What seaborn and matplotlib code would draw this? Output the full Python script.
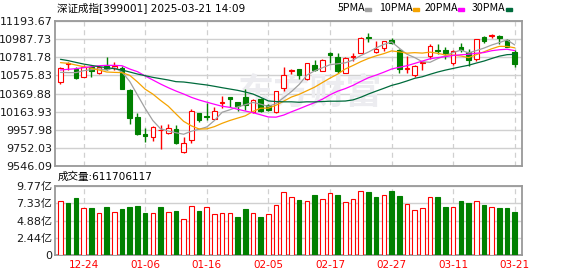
import matplotlib
matplotlib.use("Agg")
import matplotlib.pyplot as plt
import seaborn as sns
import numpy as np
import pandas as pd
from matplotlib.patches import Rectangle

# ---------------- data ----------------
dates = ["12-19", "12-20", "12-23", "12-24", "12-25", "12-26", "12-27", "12-30", "12-31",
         "01-02", "01-03", "01-06", "01-07", "01-08", "01-09", "01-10", "01-13", "01-14",
         "01-15", "01-16", "01-17", "01-20", "01-21", "01-22", "01-23", "01-24", "01-27",
         "02-05", "02-06", "02-07", "02-10", "02-11", "02-12", "02-13", "02-14", "02-17",
         "02-18", "02-19", "02-20", "02-21", "02-24", "02-25", "02-26", "02-27", "02-28",
         "03-03", "03-04", "03-05", "03-06", "03-07", "03-10", "03-11", "03-12", "03-13",
         "03-14", "03-17", "03-18", "03-19", "03-20", "03-21"]

opens = [10497, 10710, 10649, 10562, 10676, 10600, 10684, 10657, 10665, 10410,
         10098, 9904, 9870, 9950, 9915, 9965, 9706, 9839, 10144, 10109,
         10075, 10262, 10330, 10273, 10326, 10155, 10303, 10235, 10155, 10429,
         10627, 10646, 10539, 10695, 10630, 10836, 10782, 10608, 10786, 10836,
         11015, 10843, 10885, 10980, 10866, 10653, 10577, 10714, 10798, 10870,
         10866, 10714, 10897, 10840, 10760, 11018, 11026, 11026, 10980, 10847]
closes = [10657, 10722, 10551, 10676, 10630, 10676, 10653, 10687, 10425, 10094,
          9904, 9889, 9992, 9957, 9972, 9801, 9801, 10170, 10068, 10102,
          10170, 10269, 10311, 10227, 10235, 10296, 10170, 10182, 10395, 10577,
          10634, 10577, 10714, 10638, 10752, 10809, 10630, 10771, 10798, 11007,
          11007, 10874, 10965, 10942, 10646, 10661, 10684, 10725, 10912, 10859,
          10828, 10859, 10866, 10752, 10988, 10973, 11037, 11003, 10904, 10703]
highs = [10676, 10729, 10676, 10695, 10687, 10687, 10782, 10725, 10684, 10418,
         10144, 9972, 9999, 10014, 10022, 10010, 9877, 10189, 10147, 10258,
         10212, 10341, 10330, 10277, 10417, 10311, 10319, 10250, 10402, 10676,
         10653, 10653, 10722, 10752, 10764, 10840, 10828, 10782, 10828, 11018,
         11064, 10973, 10973, 10999, 10874, 10798, 10699, 10745, 10935, 10935,
         10897, 10866, 10950, 10874, 10995, 11026, 11053, 11041, 10988, 10866]
lows = [10474, 10638, 10535, 10554, 10554, 10589, 10638, 10638, 10421, 10018,
        9896, 9820, 9832, 9740, 9908, 9794, 9695, 9801, 10049, 10068,
        10075, 10201, 10212, 10174, 10182, 10144, 10163, 10170, 10144, 10398,
        10589, 10539, 10524, 10630, 10623, 10714, 10608, 10600, 10745, 10828,
        10961, 10828, 10855, 10935, 10600, 10600, 10554, 10638, 10764, 10817,
        10760, 10695, 10847, 10684, 10745, 10950, 10999, 10935, 10897, 10669]

ma5 = [10611, 10608, 10608, 10630, 10642, 10651, 10637, 10664, 10614, 10507,
       10353, 10200, 10061, 9967, 9943, 9922, 9905, 9940, 9962, 9988,
       10062, 10156, 10184, 10216, 10242, 10268, 10248, 10222, 10256, 10324,
       10392, 10473, 10579, 10628, 10663, 10698, 10709, 10720, 10752, 10803,
       10843, 10891, 10930, 10959, 10887, 10818, 10780, 10732, 10726, 10768,
       10802, 10837, 10865, 10833, 10859, 10888, 10923, 10951, 10981, 10924]
ma10 = [10722, 10714, 10695, 10676, 10657, 10638, 10615, 10611, 10608, 10577,
        10502, 10419, 10363, 10291, 10225, 10137, 10052, 10001, 9965, 9966,
        9992, 10030, 10062, 10089, 10115, 10165, 10202, 10203, 10236, 10283,
        10330, 10360, 10401, 10442, 10494, 10545, 10591, 10650, 10690, 10733,
        10770, 10800, 10825, 10856, 10845, 10830, 10836, 10831, 10842, 10828,
        10810, 10808, 10798, 10779, 10813, 10845, 10880, 10908, 10907, 10891]
ma20 = [10638, 10646, 10653, 10665, 10676, 10687, 10691, 10691, 10687, 10649,
        10619, 10570, 10524, 10478, 10436, 10398, 10364, 10326, 10296, 10271,
        10247, 10224, 10212, 10190, 10170, 10151, 10127, 10102, 10100, 10124,
        10161, 10195, 10231, 10265, 10304, 10355, 10396, 10426, 10463, 10508,
        10550, 10580, 10613, 10649, 10669, 10687, 10713, 10740, 10766, 10780,
        10790, 10804, 10812, 10817, 10829, 10837, 10858, 10869, 10875, 10859]
ma30 = [10760, 10745, 10725, 10706, 10691, 10676, 10665, 10653, 10638, 10615,
        10592, 10573, 10554, 10539, 10524, 10505, 10501, 10490, 10478, 10467,
        10452, 10436, 10421, 10406, 10387, 10364, 10326, 10285, 10278, 10275,
        10275, 10270, 10275, 10274, 10278, 10282, 10282, 10284, 10297, 10327,
        10364, 10397, 10429, 10462, 10485, 10513, 10543, 10561, 10589, 10615,
        10637, 10656, 10675, 10692, 10717, 10740, 10769, 10796, 10813, 10817]

# volume in 亿 (1e8 shares)
volumes = [7.62, 7.38, 8.09, 6.62, 6.66, 5.90, 6.81, 6.05, 6.52, 6.81,
           6.95, 5.95, 5.90, 6.81, 6.05, 6.24, 5.05, 6.90, 6.24, 6.76,
           5.76, 5.90, 5.90, 5.38, 6.52, 5.90, 5.38, 5.76, 7.04, 8.90,
           8.19, 7.81, 7.62, 8.52, 7.90, 8.76, 8.52, 7.47, 7.90, 9.04,
           8.95, 8.23, 8.47, 9.09, 8.38, 7.19, 6.33, 6.62, 8.19, 8.23,
           6.81, 6.76, 7.66, 7.38, 7.62, 7.09, 6.76, 6.66, 6.66, 6.12]
vol_up = [1, 0, 0, 1, 0, 1, 0, 1, 0, 0,
          0, 0, 1, 0, 1, 0, 1, 1, 0, 1,
          1, 1, 1, 0, 0, 1, 0, 1, 1, 1,
          1, 0, 1, 0, 1, 1, 0, 1, 1, 1,
          0, 0, 1, 0, 0, 1, 1, 1, 1, 0,
          0, 1, 0, 0, 1, 0, 1, 0, 0, 0]

price_ticks = [9546.09, 9752.03, 9957.98, 10163.93, 10369.88,
               10575.83, 10781.78, 10987.73, 11193.67]
vol_ticks = [0, 2.44, 4.88, 7.33, 9.77]
vol_tick_labels = ["0", "2.44亿", "4.88亿", "7.33亿", "9.77亿"]
label_dates = ["12-24", "01-06", "01-16", "02-05", "02-17", "02-27", "03-11", "03-21"]

title_text = "深证成指[399001] 2025-03-21 14:09"
vol_text = "成交量:611706117"
legend_names = ["5PMA", "10PMA", "20PMA", "30PMA"]
watermark = "东方财富"

# ---------------- style ----------------
RED = "#ff0000"
GREEN = "#008000"
ma_colors = ["#a0a0a0", "#f5a300", "#ff00ff", "#006b3c"]
GRID = "#d0d0d0"
SPINE = "#999999"
CJK = ["Noto Sans CJK SC", "DejaVu Sans"]
LATIN_FIRST = ["DejaVu Sans", "Noto Sans CJK SC"]

sns.set_style("white")
plt.rcParams["font.family"] = LATIN_FIRST

W, H = 578, 276
fig = plt.figure(figsize=(W / 100, H / 100), dpi=100)


def rect(l, t, r, b):
    return [l / W, 1 - b / H, (r - l) / W, (b - t) / H]


ax = fig.add_axes(rect(55, 21.3, 522, 165.7))
axv = fig.add_axes(rect(55, 186.3, 522, 254.7))

df = pd.DataFrame({"date": dates, "open": opens, "close": closes,
                   "high": highs, "low": lows, "ma5": ma5, "ma10": ma10,
                   "ma20": ma20, "ma30": ma30, "vol": volumes, "vup": vol_up})
df["x"] = np.arange(len(df))
up = df["close"] >= df["open"]
edge = np.where(up, RED, GREEN)
face = np.where(up, "white", GREEN)

# watermark (behind the candles)
ax.text(310 / W, 1 - 93 / H, watermark, transform=fig.transFigure,
        ha="center", va="center", fontsize=26, fontweight="bold",
        color="#ececf0", family=CJK, zorder=1)

# candles
ax.vlines(df["x"], df["low"], df["high"], colors=edge, linewidth=1.0, zorder=2)
body_bottom = np.minimum(df["open"], df["close"])
body_h = np.maximum((df["close"] - df["open"]).abs(), 5)
ax.bar(df["x"], body_h, bottom=body_bottom, width=0.6, color=face,
       edgecolor=edge, linewidth=0.8, zorder=3)

# moving averages
for col, c in zip(["ma5", "ma10", "ma20", "ma30"], ma_colors):
    sns.lineplot(data=df, x="x", y=col, ax=ax, color=c, linewidth=0.9,
                 zorder=4, legend=False)

# volume
vedge = np.where(df["vup"] == 1, RED, GREEN)
vface = np.where(df["vup"] == 1, "white", GREEN)
axv.bar(df["x"], df["vol"], width=0.6, color=vface, edgecolor=vedge,
        linewidth=0.8, zorder=3)

tick_pos = [dates.index(d) for d in label_dates]
for a in (ax, axv):
    a.set_xlim(-0.71, 59.94)
    a.set_xticks(tick_pos)
    a.set_xlabel("")
    a.set_ylabel("")
    for s in a.spines.values():
        s.set_color(SPINE)
        s.set_linewidth(1.3)
        s.set_visible(True)
    a.grid(axis="y", color=GRID, linewidth=1.0, linestyle="-")
    a.grid(axis="x", color=GRID, linewidth=0.9, linestyle=(0, (4, 3)))
    a.set_axisbelow(True)
    a.tick_params(length=0, pad=2)

ax.set_ylim(price_ticks[0], price_ticks[-1])
ax.set_yticks(price_ticks)
ax.set_yticklabels([f"{v:.2f}" for v in price_ticks], fontsize=8, color="#1a1a1a")
ax.set_xticklabels([])

axv.set_ylim(0, vol_ticks[-1])
axv.set_yticks(vol_ticks)
axv.set_yticklabels(vol_tick_labels, fontsize=8, color="#1a1a1a")
axv.set_xticklabels(label_dates, fontsize=7.5, color=RED)
axv.tick_params(axis="x", pad=4)

# texts
fig.text(57 / W, 1 - 8 / H, title_text, ha="left", va="center",
         fontsize=7.6, family=LATIN_FIRST, color="#000000")
fig.text(58 / W, 1 - 177 / H, vol_text, ha="left", va="center",
         fontsize=7.6, family=LATIN_FIRST, color="#000000")

name_x = [338, 379, 425, 472]
sw_x = [365, 413, 458, 506]
for name, nx, sx, c in zip(legend_names, name_x, sw_x, ma_colors):
    fig.text(nx / W, 1 - 8 / H, name, ha="left", va="center",
             fontsize=7.6, family=CJK, color="#000000")
    fig.patches.append(Rectangle((sx / W, 1 - 11 / H), 6 / W, 3.5 / H,
                                 transform=fig.transFigure, color=c))

fig.savefig("out.png", dpi=100)
